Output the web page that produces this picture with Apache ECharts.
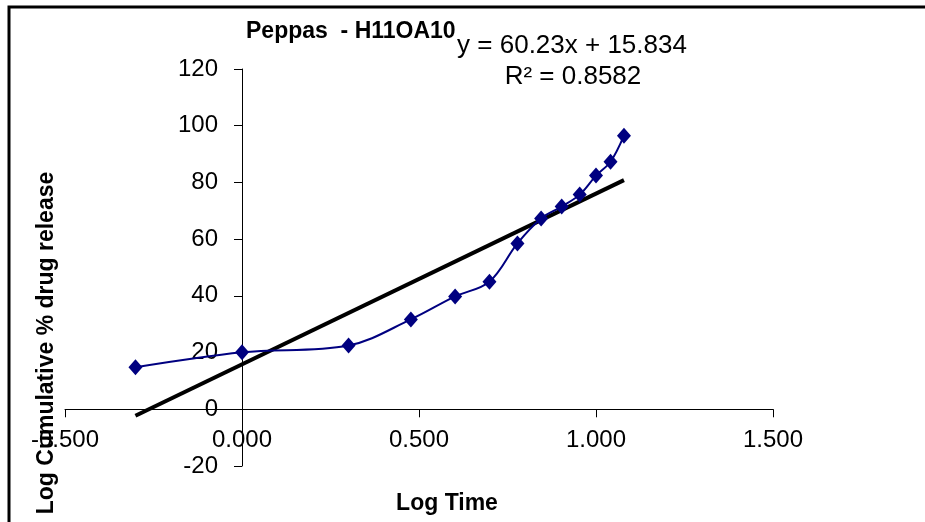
<!DOCTYPE html>
<html>
<head>
<meta charset="utf-8">
<script src="https://cdn.jsdelivr.net/npm/echarts@6/dist/echarts.min.js"></script>
<style>
  html, body { margin: 0; padding: 0; background: #fff; }
  #chart { width: 925px; height: 522px; }
</style>
</head>
<body>
<div id="chart"></div>
<script>
// Peppas - H11OA10 数据
var logTime = [-0.301, 0.000, 0.301, 0.477, 0.602, 0.699, 0.778, 0.845, 0.903, 0.954, 1.000, 1.041, 1.079];
var release = [14.8, 20.1, 22.5, 31.7, 39.8, 45.0, 58.5, 67.3, 71.5, 75.7, 82.4, 87.3, 96.5];
// 线性趋势线端点
var trendX = [-0.301, 1.079];
var trendY = [-2.3, 80.8];
var xTicks = [-0.5, 0, 0.5, 1.0, 1.5];
var yTicks = [-20, 0, 20, 40, 60, 80, 100, 120];

var font = "'Liberation Sans', Arial, sans-serif";
var chart = echarts.init(document.getElementById('chart'));

// 网格尺寸，坐标轴要交在 (0,0) 处
var gridLeft = 65, gridRight = 152, gridTop = 69, gridBottom = 56;
var plotW = 925 - gridLeft - gridRight;
var plotH = 522 - gridTop - gridBottom;
var yAxisShift = plotW * (0 - xTicks[0]) / (xTicks[xTicks.length - 1] - xTicks[0]);
var xAxisShift = plotH * (0 - yTicks[0]) / (yTicks[yTicks.length - 1] - yTicks[0]);

var option = {
  backgroundColor: '#fff',
  animation: false,
  title: {
    text: 'Peppas  - H11OA10',
    left: 246,
    top: 20,
    padding: 0,
    textStyle: { fontFamily: font, fontSize: 23, fontWeight: 'bold', color: '#000' }
  },
  grid: { left: gridLeft, right: gridRight, top: gridTop, bottom: gridBottom },
  xAxis: {
    type: 'value',
    min: xTicks[0],
    max: xTicks[xTicks.length - 1],
    interval: 0.5,
    offset: -xAxisShift,
    splitLine: { show: false },
    axisLine: { onZero: false, lineStyle: { color: '#000', width: 1 } },
    axisTick: { show: true, length: 8, lineStyle: { color: '#000' } },
    axisLabel: {
      margin: 19,
      showMinLabel: true,
      showMaxLabel: true,
      color: '#000',
      fontFamily: font,
      fontSize: 24,
      formatter: function (v) { return v.toFixed(3); }
    }
  },
  yAxis: {
    type: 'value',
    min: yTicks[0],
    max: yTicks[yTicks.length - 1],
    interval: 20,
    offset: -yAxisShift,
    splitLine: { show: false },
    axisLine: { onZero: false, lineStyle: { color: '#000', width: 1 } },
    axisTick: { show: true, length: 8, lineStyle: { color: '#000' } },
    axisLabel: {
      margin: 24,
      showMinLabel: true,
      showMaxLabel: true,
      color: '#000',
      fontFamily: font,
      fontSize: 24
    }
  },
  graphic: [
    // 外框
    {
      type: 'rect',
      shape: { x: 9, y: 7, width: 1000, height: 700 },
      style: { fill: 'none', stroke: '#000', lineWidth: 3 },
      silent: true
    },
    {
      type: 'text',
      x: 572, y: 46,
      style: { text: 'y = 60.23x + 15.834', fill: '#000', font: '26px ' + font, align: 'center', verticalAlign: 'middle' }
    },
    {
      type: 'text',
      x: 573, y: 77,
      style: { text: 'R² = 0.8582', fill: '#000', font: '26px ' + font, align: 'center', verticalAlign: 'middle' }
    },
    {
      type: 'text',
      x: 447, y: 504,
      style: { text: 'Log Time', fill: '#000', font: 'bold 23px ' + font, align: 'center', verticalAlign: 'middle' }
    },
    {
      type: 'text',
      x: 47, y: 343,
      rotation: Math.PI / 2,
      z: 100,
      style: { text: 'Log Cumulative % drug release', fill: '#000', font: 'bold 23px ' + font, align: 'center', verticalAlign: 'middle' }
    }
  ],
  series: [
    {
      name: 'trend',
      type: 'line',
      data: trendX.map(function (x, i) { return [x, trendY[i]]; }),
      symbol: 'none',
      lineStyle: { color: '#000', width: 4 },
      z: 3
    },
    {
      name: 'release',
      type: 'line',
      data: logTime.map(function (x, i) { return [x, release[i]]; }),
      smooth: 0.35,
      symbol: 'diamond',
      symbolSize: [14, 16],
      itemStyle: { color: '#000080' },
      lineStyle: { color: '#000080', width: 2 },
      z: 4
    }
  ]
};
chart.setOption(option);
</script>
</body>
</html>
